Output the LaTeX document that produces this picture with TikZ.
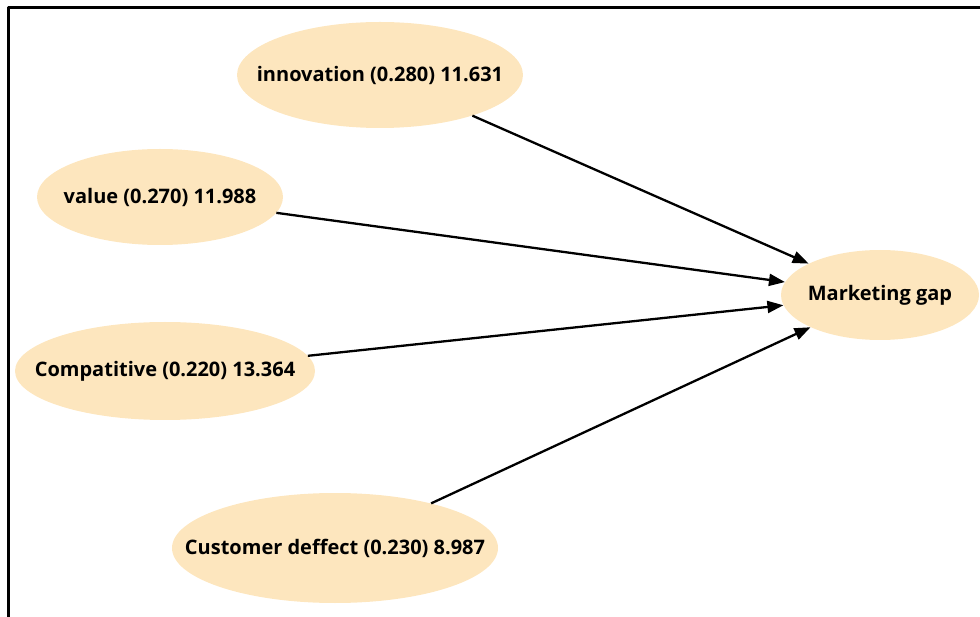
\documentclass[tikz,border=0pt]{standalone}
\usepackage{fontspec}
\setmainfont{Open Sans}
\usepackage{tikz}
\usetikzlibrary{arrows.meta,shapes.geometric}
\definecolor{peach}{RGB}{253,230,190}

\begin{document}
\begin{tikzpicture}[x=1pt, y=-1pt, line join=round,
  factor/.style={ellipse, fill=peach, draw=none, inner sep=0pt},
  factext/.style={font=\fontsize{20}{24}\selectfont\bfseries},
  path/.style={line width=2.3pt, -{Triangle[length=16pt,width=12pt]}}]
\useasboundingbox (0,0) rectangle (980,617);
% frame
\draw[line width=3pt] (8.5,617) -- (8.5,7.5) -- (980,7.5);
% factors
\node[factor, minimum width=286pt, minimum height=106pt,
  label={[factext]center:innovation (0.280) 11.631}] (innov) at (380,75) {};
\node[factor, minimum width=246pt, minimum height=96pt,
  label={[factext]center:value (0.270) 11.988}] (value) at (160,197) {};
\node[factor, minimum width=300pt, minimum height=98pt,
  label={[factext]center:Compatitive (0.220) 13.364}] (compet) at (165,371) {};
\node[factor, minimum width=326pt, minimum height=110pt,
  label={[factext]center:Customer deffect (0.230) 8.987}] (cust) at (335,548) {};
% outcome
\node[factor, minimum width=198pt, minimum height=90pt,
  label={[factext]center:Marketing gap}] (gap) at (880,295) {};
% paths
\draw[path] (innov) -- (gap);
\draw[path] (value) -- (gap);
\draw[path] (compet) -- (gap);
\draw[path] (cust) -- (gap);
\end{tikzpicture}
\end{document}
